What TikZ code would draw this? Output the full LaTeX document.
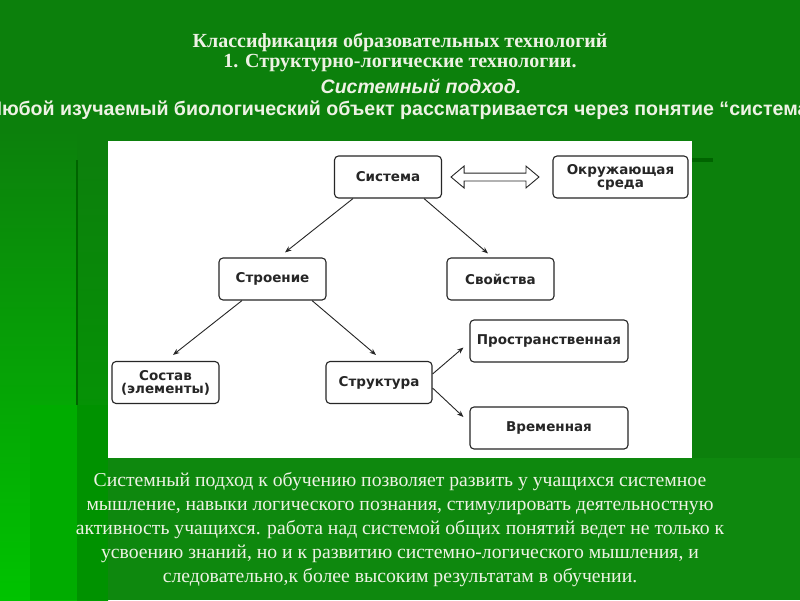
\documentclass[tikz,border=0pt]{standalone}
\usepackage{fontspec}
\setmainfont{Liberation Serif}
\newfontfamily\boxfont{DejaVu Sans}
\newfontfamily\arialfont{Liberation Sans}
\usetikzlibrary{arrows.meta,shapes.arrows}
\definecolor{bgtop}{RGB}{12,128,12}
\definecolor{bglight}{RGB}{0,195,0}
\definecolor{bgmid}{RGB}{0,160,0}
\definecolor{bgmidb}{RGB}{0,172,0}
\definecolor{bgdark}{RGB}{0,146,0}
\definecolor{bgtext}{RGB}{14,136,14}
\definecolor{darkline}{RGB}{0,100,0}
\definecolor{slidetext}{RGB}{238,242,228}
\definecolor{ink}{RGB}{38,38,38}

\begin{document}
\begin{tikzpicture}[x=1pt, y=-1pt, >={Stealth[length=6.5pt,width=5pt]},
  box/.style={draw=ink, fill=white, line width=1.1pt, rounded corners=4pt, minimum width=107pt, minimum height=42pt, inner sep=2pt, align=center, text=ink, font=\boxfont\bfseries\fontsize{13.5}{15}\selectfont},
  link/.style={->, draw=ink, line width=0.9pt},
  head/.style={text=slidetext, font=\bfseries\fontsize{20}{22}\selectfont}]
	\useasboundingbox (0,0) rectangle (800,600);
	\clip (0,0) rectangle (800,600);
	\fill[bgtop] (0,0) rectangle (800,600);
	\shade[top color=bgtop, bottom color=bglight] (0,130) rectangle (77,600);
	\shade[top color=bgtop, bottom color=bgmid] (77,160) rectangle (108,600);
	\fill[bgmidb] (30,405) rectangle (77,600);
	\fill[bgdark] (77,405) rectangle (108,600);
	\draw[darkline, line width=1.5pt] (77,160) -- (77,405);
	\fill[bgtext] (108,458) rectangle (800,600);
	\fill[darkline] (692,158) rectangle (713,162);
	\fill[white] (108,141) rectangle (692,458);

	\node[head] (title) at (400,42) {Классификация образовательных технологий};
	\node[head] (subtitle) at (400,63) {1. Структурно-логические технологии.};
	\node[text=slidetext, font=\arialfont\bfseries\itshape\fontsize{19.5}{22}\selectfont] (approach) at (421,86) {Системный подход.};
	\node[text=slidetext, font=\arialfont\bfseries\fontsize{19.6}{22}\selectfont] (thesis) at (406,110) {Любой изучаемый биологический объект рассматривается через понятие “система”.};

	\node[box] (sys) at (388,177) {Система};
	\node[box, minimum width=135pt] (env) at (620.5,177) {Окружающая\\[-2pt]среда};
	\node[box] (str) at (272.5,279) {Строение};
	\node[box] (prop) at (500.5,279) {Свойства};
	\node[box] (sost) at (165.5,382.5) {Состав\\[-2pt](элементы)};
	\node[box, minimum width=106pt] (struct) at (379,382.5) {Структура};
	\node[box, minimum width=158pt] (spat) at (549,341) {Пространственная};
	\node[box, minimum width=158pt] (temp) at (549,428) {Временная};

	\node[double arrow, draw=ink, fill=white, line width=0.9pt, inner sep=3.5pt, minimum height=88pt, double arrow head extend=7pt, double arrow tip angle=80] (swap) at (495,177) {};

	\draw[link] ([xshift=-35pt]sys.south) -- ([xshift=12.5pt,yshift=5pt]str.north);
	\draw[link] ([xshift=36pt]sys.south) -- ([xshift=-12.5pt,yshift=4pt]prop.north);
	\draw[link] ([xshift=-30.5pt]str.south) -- ([xshift=7.5pt,yshift=6pt]sost.north);
	\draw[link] ([xshift=39.5pt]str.south) -- ([xshift=-3pt,yshift=6pt]struct.north);
	\draw[link] ([yshift=8.5pt]struct.east) -- ([xshift=-6pt,yshift=-6.5pt]spat.west);
	\draw[link] ([yshift=-5.5pt]struct.east) -- ([xshift=-6pt,yshift=11pt]temp.west);

	\node[text=slidetext, align=center, font=\fontsize{19.7}{24}\selectfont] (note) at (400,530) {Системный подход к обучению позволяет развить у учащихся системное\\мышление, навыки логического познания, стимулировать деятельностную\\активность учащихся. работа над системой общих понятий ведет не только к\\усвоению знаний, но и к развитию системно-логического мышления, и\\следовательно,к более высоким результатам в обучении.};
\end{tikzpicture}
\end{document}
